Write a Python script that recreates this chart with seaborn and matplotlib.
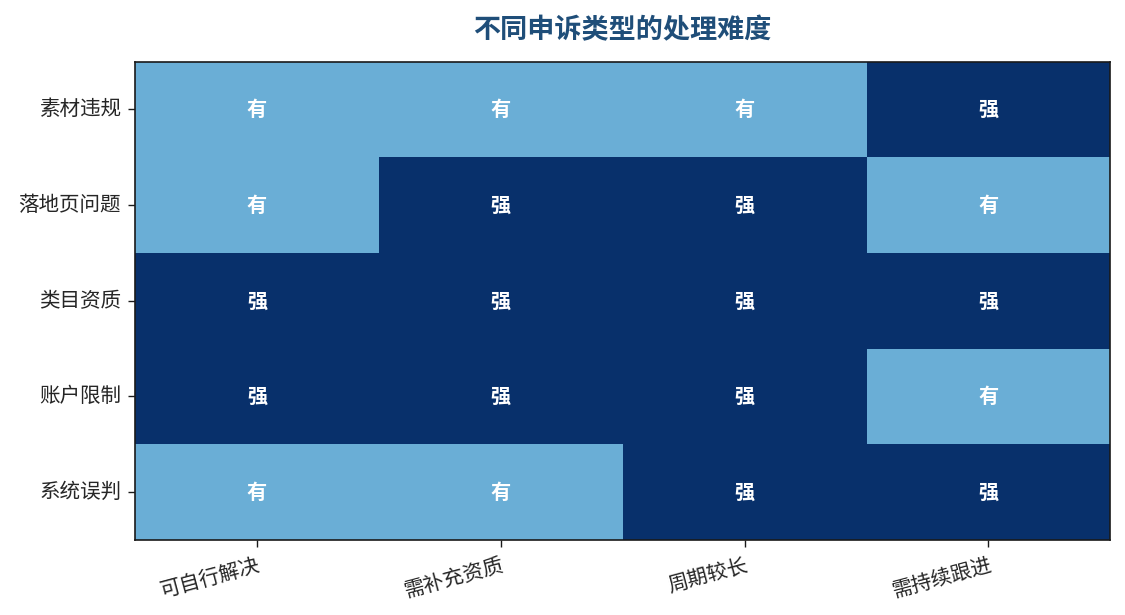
import numpy as np
import pandas as pd
import matplotlib
matplotlib.use("Agg")
import matplotlib.pyplot as plt
import seaborn as sns

rows = ["素材违规", "落地页问题", "类目资质", "账户限制", "系统误判"]
cols = ["可自行解决", "需补充资质", "周期较长", "需持续跟进"]
# 1 = 有, 2 = 强
levels = [
    [1, 1, 1, 2],
    [1, 2, 2, 1],
    [2, 2, 2, 2],
    [2, 2, 2, 1],
    [1, 1, 2, 2],
]
level_names = {1: "有", 2: "强"}

sns.set_theme(style="white")
plt.rcParams['font.family'] = ['Noto Sans CJK SC', 'DejaVu Sans']

df = pd.DataFrame(levels, index=rows, columns=cols)
annot = df.apply(lambda c: c.map(level_names))

fig = plt.figure(figsize=(11.25, 6.15), dpi=100)
ax = fig.add_axes([0.12, 0.122, 0.867, 0.778])
sns.heatmap(df, ax=ax, cmap="Blues", vmin=0, vmax=2, cbar=False,
            annot=annot, fmt="",
            annot_kws={"color": "white", "fontsize": 14.5, "fontweight": "bold"})
for s in ax.spines.values():
    s.set_visible(True)
    s.set_color("#1a1a1a")
    s.set_linewidth(1.2)
ax.tick_params(axis="both", which="major", length=5, width=1, color="#1a1a1a",
               labelsize=14.8, left=True, bottom=True, pad=5)
ax.set_yticklabels(rows, rotation=0, va="center")
ax.set_xticklabels(cols, rotation=15, ha="right", rotation_mode="anchor")
ax.set_xlabel("")
ax.set_ylabel("")
ax.set_title("不同申诉类型的处理难度", fontsize=19.5, fontweight="bold",
             color="#1f4e79", pad=17)
fig.savefig("out.png", dpi=100)
